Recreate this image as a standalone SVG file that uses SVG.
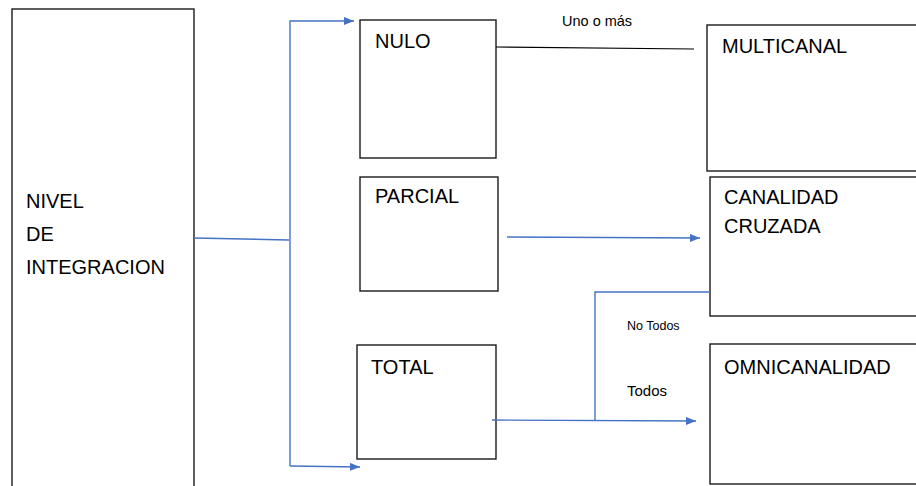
<svg xmlns="http://www.w3.org/2000/svg" width="916" height="486" viewBox="0 0 916 486">
<defs>
<style>
.box{fill:#fff;stroke:#1a1a1a;stroke-width:1.4}
.t{font-family:"Liberation Sans",Arial,sans-serif;font-size:20px;fill:#000}
.s{font-family:"Liberation Sans",Arial,sans-serif;fill:#000}
.b{fill:none;stroke:#4472C4;stroke-width:1.4}
.k{fill:none;stroke:#000;stroke-width:1.2}
</style>
<marker id="ah" markerWidth="10" markerHeight="8" refX="10" refY="4" orient="auto" markerUnits="userSpaceOnUse">
<path d="M0,0 L10,4 L0,8 Z" fill="#4472C4"/>
</marker>
</defs>
<rect width="916" height="486" fill="#fff"/>
<g id="nivel">
<rect class="box" x="12" y="9" width="182" height="490"/>
<text class="t" x="26" y="208">NIVEL</text>
<text class="t" x="26" y="241">DE</text>
<text class="t" x="26" y="274">INTEGRACION</text>
</g>
<g id="nulo">
<rect class="box" x="360" y="20" width="136" height="138"/>
<text class="t" x="375" y="48">NULO</text>
</g>
<g id="parcial">
<rect class="box" x="360" y="177" width="138" height="114"/>
<text class="t" x="375" y="203">PARCIAL</text>
</g>
<g id="total">
<rect class="box" x="357" y="345" width="139" height="114"/>
<text class="t" x="371" y="374">TOTAL</text>
</g>
<g id="multicanal">
<rect class="box" x="707" y="25" width="220" height="146"/>
<text class="t" x="722" y="53">MULTICANAL</text>
</g>
<g id="cruzada">
<rect class="box" x="710" y="177" width="220" height="139"/>
<text class="t" x="724" y="204">CANALIDAD</text>
<text class="t" x="724" y="233">CRUZADA</text>
</g>
<g id="omni">
<rect class="box" x="710" y="344" width="220" height="140"/>
<text class="t" x="724" y="374">OMNICANALIDAD</text>
</g>
<g id="connectors">
<path class="b" d="M194,238 L289,240"/>
<path class="b" d="M290,466 L290,21 L354,21" marker-end="url(#ah)"/>
<path class="b" d="M290,466 L360,467" marker-end="url(#ah)"/>
<path class="b" d="M507,237 L700,238" marker-end="url(#ah)"/>
<path class="b" d="M492,420 L696,421" marker-end="url(#ah)"/>
<path class="b" d="M595,421 L595,292 L710,292"/>
<path class="k" d="M496,47 L694,49"/>
<text class="s" x="562" y="26" font-size="14.5">Uno o más</text>
<text class="s" x="627" y="330" font-size="12.5">No Todos</text>
<text class="s" x="627" y="396" font-size="15">Todos</text>
</g>
</svg>
